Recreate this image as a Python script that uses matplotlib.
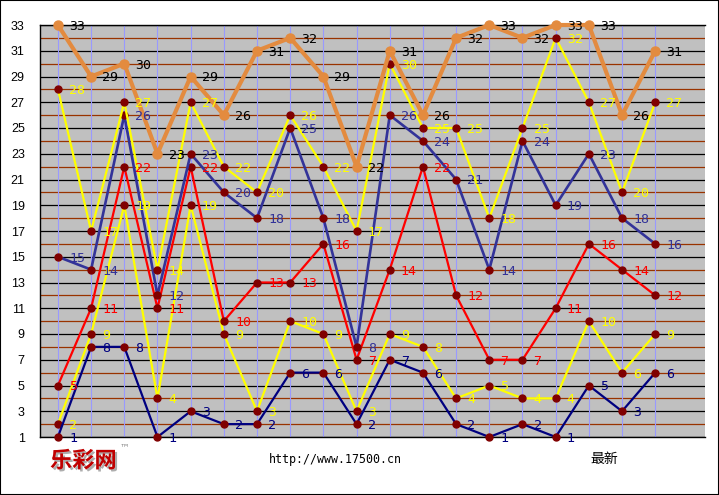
import matplotlib.pyplot as plt
import matplotlib.patheffects as pe
from matplotlib.patches import Rectangle

# 19 期，每期 6 个号码（从大到小）
periods = list(range(19))
s_max = [33, 29, 30, 23, 29, 26, 31, 32, 29, 22, 31, 26, 32, 33, 32, 33, 33, 26, 31]
s_2nd = [28, 17, 27, 14, 27, 22, 20, 26, 22, 17, 30, 25, 25, 18, 25, 32, 27, 20, 27]
s_3rd = [15, 14, 26, 12, 23, 20, 18, 25, 18, 8, 26, 24, 21, 14, 24, 19, 23, 18, 16]
s_4th = [5, 11, 22, 11, 22, 10, 13, 13, 16, 7, 14, 22, 12, 7, 7, 11, 16, 14, 12]
s_5th = [2, 9, 19, 4, 19, 9, 3, 10, 9, 3, 9, 8, 4, 5, 4, 4, 10, 6, 9]
s_min = [1, 8, 8, 1, 3, 2, 2, 6, 6, 2, 7, 6, 2, 1, 2, 1, 5, 3, 6]
y_ticks = list(range(1, 34, 2))

fig = plt.figure(figsize=(7.19, 4.95), dpi=100)
ax = fig.add_axes([40 / 719, 1 - 437 / 495, 665 / 719, 412 / 495])
ax.set_facecolor('#C0C0C0')
ax.set_xlim(-0.54, 19.5)
ax.set_ylim(1, 33)

# 横线：奇数黑色，偶数棕色
for v in range(1, 34):
    ax.axhline(v, color='black' if v % 2 else '#993300', lw=0.9, zorder=1)
# 竖线
for p in periods:
    ax.axvline(p, color='#9999FF', lw=0.8, zorder=1)

series = [
    (s_5th, '#FFFF00', '#FFFF00', 1.6, 3),
    (s_min, '#000080', '#000080', 1.6, 3),
    (s_4th, '#FF0000', '#FF0000', 1.6, 3),
    (s_3rd, '#333399', '#333399', 1.9, 3),
    (s_2nd, '#FFFF00', '#FFFF00', 1.6, 3),
]
for vals, col, lab_col, lw, z in series:
    ax.plot(periods, vals, color=col, lw=lw, marker='o', ms=5,
            mfc='#800000', mec='#800000', zorder=z, clip_on=False)
    for x, v in zip(periods, vals):
        ax.annotate(str(v), (x, v), xytext=(8, -1), textcoords='offset points',
                    color=lab_col, fontsize=9.5, family='DejaVu Sans Mono',
                    va='center', ha='left', zorder=6, annotation_clip=False)

ax.plot(periods, s_max, color='#E38B3F', lw=3, marker='o', ms=6.5,
        mfc='#E38B3F', mec='#E38B3F', zorder=4, clip_on=False)
for x, v in zip(periods, s_max):
    ax.annotate(str(v), (x, v), xytext=(8, -1), textcoords='offset points',
                color='black', fontsize=9.5, family='DejaVu Sans Mono',
                va='center', ha='left', zorder=6, annotation_clip=False)

ax.set_xticks([])
ax.set_yticks(y_ticks)
ax.set_yticklabels([str(t) for t in y_ticks], fontsize=9, family='Liberation Sans')
ax.tick_params(axis='y', length=0, pad=11)
ax.spines['right'].set_visible(False)
for s in ['left', 'top', 'bottom']:
    ax.spines[s].set_color('black')
    ax.spines[s].set_linewidth(1)

# 底部文字（标志带阴影）
fig.text(50 / 719, 1 - 461 / 495, '乐彩网', color='#C00000', fontsize=16,
         fontweight='bold', family='Noto Sans CJK SC', va='center', ha='left',
         path_effects=[pe.withSimplePatchShadow(offset=(1.5, -1.5),
                                                shadow_rgbFace='#999999', alpha=0.8)])
fig.text(120 / 719, 1 - 447 / 495, '™', color='#888888', fontsize=7,
         family='DejaVu Sans', va='center', ha='left')
fig.text(335 / 719, 1 - 460 / 495, 'http://www.17500.cn', color='black',
         fontsize=8.4, family='DejaVu Sans Mono', va='center', ha='center')
fig.text(604 / 719, 1 - 459 / 495, '最新', color='black', fontsize=10,
         family='Noto Sans CJK SC', va='center', ha='center')

fig.patches.append(Rectangle((0, 0), 1, 1, transform=fig.transFigure,
                             fill=False, edgecolor='black', lw=1.5))

fig.savefig('out.png', dpi=100)
